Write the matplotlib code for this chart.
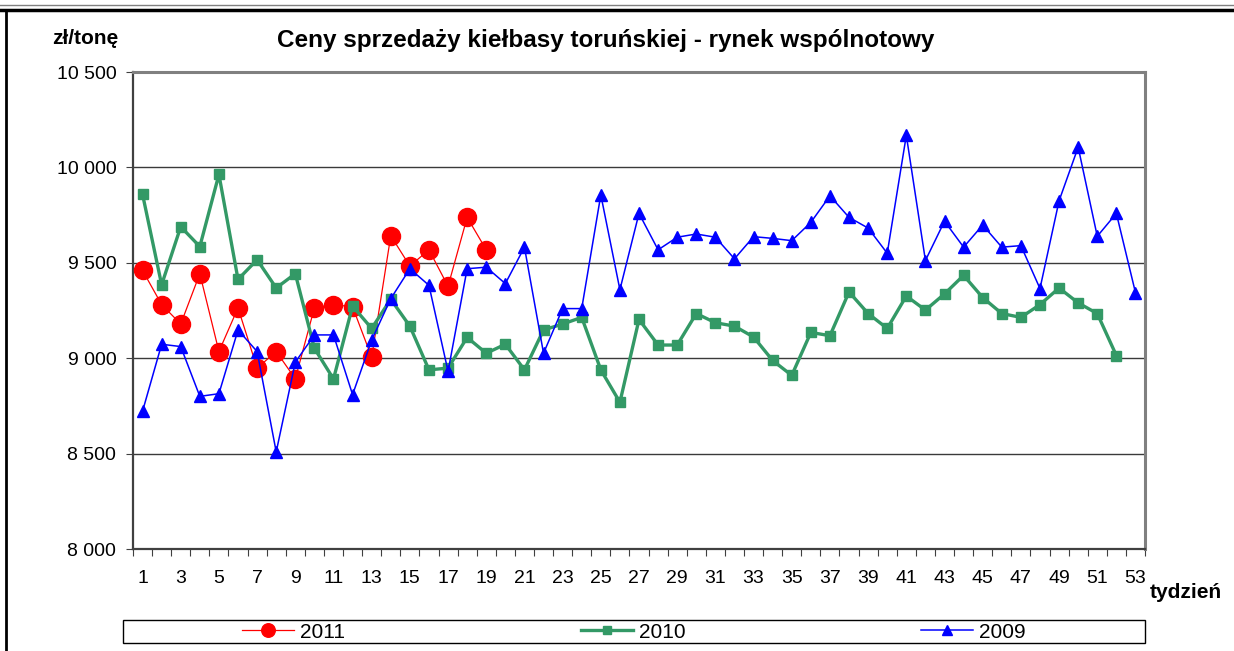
from matplotlib import pyplot as plt
from matplotlib.lines import Line2D
from matplotlib.patches import Rectangle
import numpy as np

plt.rcParams['font.family'] = ['Liberation Sans', 'DejaVu Sans']

# weekly prices, zl/tone
weeks = np.arange(1, 54)
price_2011 = [9460, 9281, 9179, 9443, 9035, 9264, 8948, 9035, 8892, 9264,
              9281, 9269, 9005, 9642, 9483, 9568, 9377, 9738, 9568]
price_2010 = [9859, 9385, 9689, 9585, 9963, 9413, 9516, 9368, 9443, 9052,
              8891, 9273, 9156, 9309, 9168, 8939, 8948, 9109, 9026, 9073,
              8939, 9148, 9179, 9214, 8939, 8769, 9203, 9069, 9069, 9234,
              9186, 9168, 9111, 8988, 8910, 9135, 9118, 9347, 9234, 9156,
              9326, 9252, 9337, 9434, 9318, 9234, 9214, 9281, 9368, 9290,
              9234, 9014]
price_2009 = [8722, 9073, 9061, 8800, 8814, 9148, 9035, 8509, 8979, 9122,
              9122, 8809, 9095, 9312, 9469, 9382, 8931, 9469, 9477, 9391,
              9582, 9026, 9260, 9260, 9856, 9359, 9759, 9568, 9634, 9651,
              9634, 9521, 9637, 9628, 9616, 9712, 9851, 9738, 9682, 9550,
              10168, 9512, 9718, 9582, 9698, 9582, 9590, 9365, 9825, 10106,
              9639, 9759, 9344]
y_ticks = [8000, 8500, 9000, 9500, 10000, 10500]

fig = plt.figure(figsize=(12.34, 6.51), dpi=100)
ax = fig.add_axes([133/1234, 1-549/651, (1145-133)/1234, (549-72)/651])

#grid first so lines sit on top
for v in y_ticks[1:-1]:
    ax.axhline(v, color='#3a3a3a', lw=1.0, zorder=1)

l11, = ax.plot(weeks[:len(price_2011)], price_2011, '-o', color='#FF0000',
               lw=0.9, ms=13, zorder=3)
l10, = ax.plot(weeks[:len(price_2010)], price_2010, '-s', color='#339966',
               lw=2.4, ms=7.5, zorder=4)
l09, = ax.plot(weeks[:len(price_2009)], price_2009, '-^', color='#0000FF',
               lw=1.1, ms=9, zorder=5)

ax.set_xlim(0.5, 53.5)
ax.set_ylim(8000, 10500)
ax.set_yticks(y_ticks)
ax.set_yticklabels([f"{v:,}".replace(',', ' ') for v in y_ticks])

# tick marks between categories, labels on odd weeks
ax.set_xticks(np.arange(0.5, 54, 1))
ax.set_xticklabels([])
ax.set_xticks(weeks[::2], minor=True)
ax.set_xticklabels([str(w) for w in weeks[::2]], minor=True)
ax.tick_params(axis='x', which='major', length=5, direction='out', color='#404040')
ax.tick_params(axis='x', which='minor', length=0, pad=15, labelsize=14)
ax.tick_params(axis='y', length=5, direction='out', pad=7, labelsize=14, color='#404040')

for s in ['left', 'bottom']:
    ax.spines[s].set_color('#404040')
    ax.spines[s].set_linewidth(1.6)
for s in ['top', 'right']:
    ax.spines[s].set_color('#808080')
    ax.spines[s].set_linewidth(2.2)

fig.text(606/1234, 1-41/651, 'Ceny sprzedaży kiełbasy toruńskiej - rynek wspólnotowy',
         ha='center', va='center', fontsize=17.5, fontweight='bold')
fig.text(85/1234, 1-38/651, 'zł/tonę', ha='center', va='center', fontsize=15, fontweight='bold')
fig.text(1186/1234, 1-593/651, 'tydzień', ha='center', va='center', fontsize=15, fontweight='bold')

# legend frame + entries
fig.add_artist(Rectangle((123/1234, 1-643/651), (1145-123)/1234, 23/651,
                         transform=fig.transFigure, fill=False, ec='black', lw=1.0))
fig.legend([l11, l10, l09], ['2011', '2010', '2009'], ncol=3, frameon=False,
           loc='center', bbox_to_anchor=(634/1234, 1-632/651), fontsize=15,
           handlelength=2.5, handletextpad=0.3, columnspacing=11.3,
           markerscale=0.75, borderpad=0)

# outer border of the page
fig.add_artist(Line2D([0, 1], [1-5/651, 1-5/651], transform=fig.transFigure, color='#808080', lw=1))
fig.add_artist(Line2D([0, 1], [1-9.5/651, 1-9.5/651], transform=fig.transFigure, color='black', lw=2.5))
fig.add_artist(Line2D([6/1234, 6/1234], [0, 1-9.5/651], transform=fig.transFigure, color='black', lw=2))

fig.savefig('out.png', dpi=100)
